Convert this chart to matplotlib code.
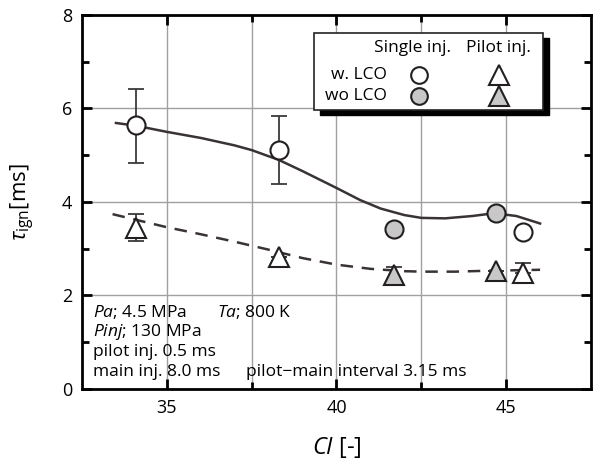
import matplotlib
matplotlib.use("Agg")
import matplotlib.pyplot as plt
from matplotlib.patches import Rectangle

plt.rcParams['font.family'] = ['Open Sans', 'DejaVu Sans']
plt.rcParams['mathtext.fontset'] = 'custom'
plt.rcParams['mathtext.rm'] = 'Open Sans'
plt.rcParams['mathtext.it'] = 'Open Sans:italic'

# single injection, with LCO (open circles)
ci_single_w = [34.1, 38.3, 45.5]
tau_single_w = [5.64, 5.11, 3.36]
err_single_w = [[0.81, 0.72, 0.0], [0.78, 0.73, 0.0]]
# single injection, without LCO (grey circles)
ci_single_wo = [41.7, 44.7]
tau_single_wo = [3.42, 3.77]
# pilot injection, with LCO (open triangles)
ci_pilot_w = [34.1, 38.3, 45.5]
tau_pilot_w = [3.45, 2.82, 2.49]
err_pilot_w = [[0.28, 0.0, 0.0], [0.29, 0.0, 0.21]]
# pilot injection, without LCO (grey triangles)
ci_pilot_wo = [41.7, 44.7]
tau_pilot_wo = [2.44, 2.52]
err_pilot_wo = [[0.19, 0.0], [0.17, 0.0]]

# trend curves
curve_single_x = [33.5, 34.1, 35.0, 36.0, 37.0, 37.5, 38.3, 39.0, 40.0, 40.7,
                  41.3, 42.0, 42.5, 43.2, 44.0, 44.65, 45.3, 46.0]
curve_single_y = [5.69, 5.63, 5.50, 5.37, 5.21, 5.11, 4.90, 4.66, 4.30, 4.04,
                  3.86, 3.72, 3.66, 3.65, 3.70, 3.76, 3.70, 3.54]
curve_pilot_x = [33.4, 35.0, 36.0, 37.0, 38.0, 39.0, 40.0, 41.0, 42.0, 42.5,
                 43.5, 44.5, 45.3, 46.0]
curve_pilot_y = [3.74, 3.46, 3.31, 3.15, 2.98, 2.80, 2.66, 2.57, 2.52, 2.51,
                 2.51, 2.53, 2.54, 2.55]

edge = '#231f20'
grey = '#c8c8c8'

fig = plt.figure(figsize=(5.93, 4.61), dpi=100)
ax = fig.add_axes([0.1383, 0.1562, 0.8583, 0.8113])

ax.plot(curve_single_x, curve_single_y, '-', color='#3a3333', lw=1.8, zorder=3)
ax.plot(curve_pilot_x, curve_pilot_y, '--', color='#3a3333', lw=1.8,
        dashes=(5, 3.5), zorder=3)

ebkw = dict(fmt='none', ecolor='#3a3a3a', elinewidth=1.3, capsize=6, capthick=1.3, zorder=4)
ax.errorbar(ci_single_w, tau_single_w, yerr=err_single_w, **ebkw)
ax.errorbar(ci_pilot_w, tau_pilot_w, yerr=err_pilot_w, **ebkw)
ax.errorbar(ci_pilot_wo, tau_pilot_wo, yerr=err_pilot_wo, **ebkw)

mk = dict(linestyle='none', markeredgecolor=edge, markeredgewidth=1.5, zorder=5)
ax.plot(ci_single_w, tau_single_w, 'o', markersize=13, markerfacecolor='white', **mk)
ax.plot(ci_single_wo, tau_single_wo, 'o', markersize=13, markerfacecolor=grey, **mk)
ax.plot(ci_pilot_w, tau_pilot_w, '^', markersize=15, markerfacecolor='white', **mk)
ax.plot(ci_pilot_wo, tau_pilot_wo, '^', markersize=15, markerfacecolor=grey, **mk)

ax.set_xlim(32.5, 47.5)
ax.set_ylim(0, 8)
ax.set_xticks([35, 40, 45])
ax.set_xticks([37.5, 42.5], minor=True)
ax.set_yticks([0, 2, 4, 6, 8])
ax.set_yticks([1, 3, 5, 7], minor=True)
ax.grid(True, which='major', color='#a0a0a0', lw=1)
ax.grid(True, which='minor', axis='x', color='#a0a0a0', lw=1)
ax.set_axisbelow(True)
ax.tick_params(which='both', direction='in', top=True, right=True, width=2,
               labelsize=13, colors='black')
ax.tick_params(which='major', length=7, pad=7)
ax.tick_params(which='minor', length=5)
for s in ax.spines.values():
    s.set_linewidth(2)

ax.set_xlabel(r'$CI$ [-]', fontsize=17, labelpad=13)
ax.set_ylabel(r'$\tau_{\mathrm{ign}}$[ms]', fontsize=16, labelpad=18)

# legend box drawn by hand
tr = ax.transAxes
ax.add_patch(Rectangle((0.467, 0.732), 0.450, 0.206, transform=tr,
                       facecolor='black', edgecolor='black', zorder=6))
ax.add_patch(Rectangle((0.456, 0.746), 0.450, 0.206, transform=tr,
                       facecolor='white', edgecolor='#222222', lw=1.2, zorder=7))
ax.text(0.650, 0.912, 'Single inj.', transform=tr, ha='center', va='center',
        fontsize=12.5, zorder=8)
ax.text(0.819, 0.912, 'Pilot inj.', transform=tr, ha='center', va='center',
        fontsize=12.5, zorder=8)
ax.text(0.599, 0.840, 'w. LCO', transform=tr, ha='right', va='center',
        fontsize=12.5, zorder=8)
ax.text(0.599, 0.783, 'wo LCO', transform=tr, ha='right', va='center',
        fontsize=12.5, zorder=8)
lk = dict(transform=tr, linestyle='none', markeredgecolor=edge,
          markeredgewidth=1.5, zorder=8, clip_on=False)
ax.plot([0.662], [0.840], 'o', markersize=12, markerfacecolor='white', **lk)
ax.plot([0.662], [0.783], 'o', markersize=12, markerfacecolor=grey, **lk)
ax.plot([0.819], [0.840], '^', markersize=14, markerfacecolor='white', **lk)
ax.plot([0.819], [0.783], '^', markersize=14, markerfacecolor=grey, **lk)

# conditions
cond = dict(transform=tr, ha='left', va='center', fontsize=12.5)
ax.text(0.021, 0.206, r'$Pa$; 4.5 MPa', **cond)
ax.text(0.265, 0.206, r'$Ta$; 800 K', **cond)
ax.text(0.021, 0.153, r'$Pinj$; 130 MPa', **cond)
ax.text(0.021, 0.099, 'pilot inj. 0.5 ms', **cond)
ax.text(0.021, 0.046, 'main inj. 8.0 ms', **cond)
ax.text(0.322, 0.046, 'pilot\u2212main interval 3.15 ms', **cond)

fig.savefig('out.png', dpi=100)
